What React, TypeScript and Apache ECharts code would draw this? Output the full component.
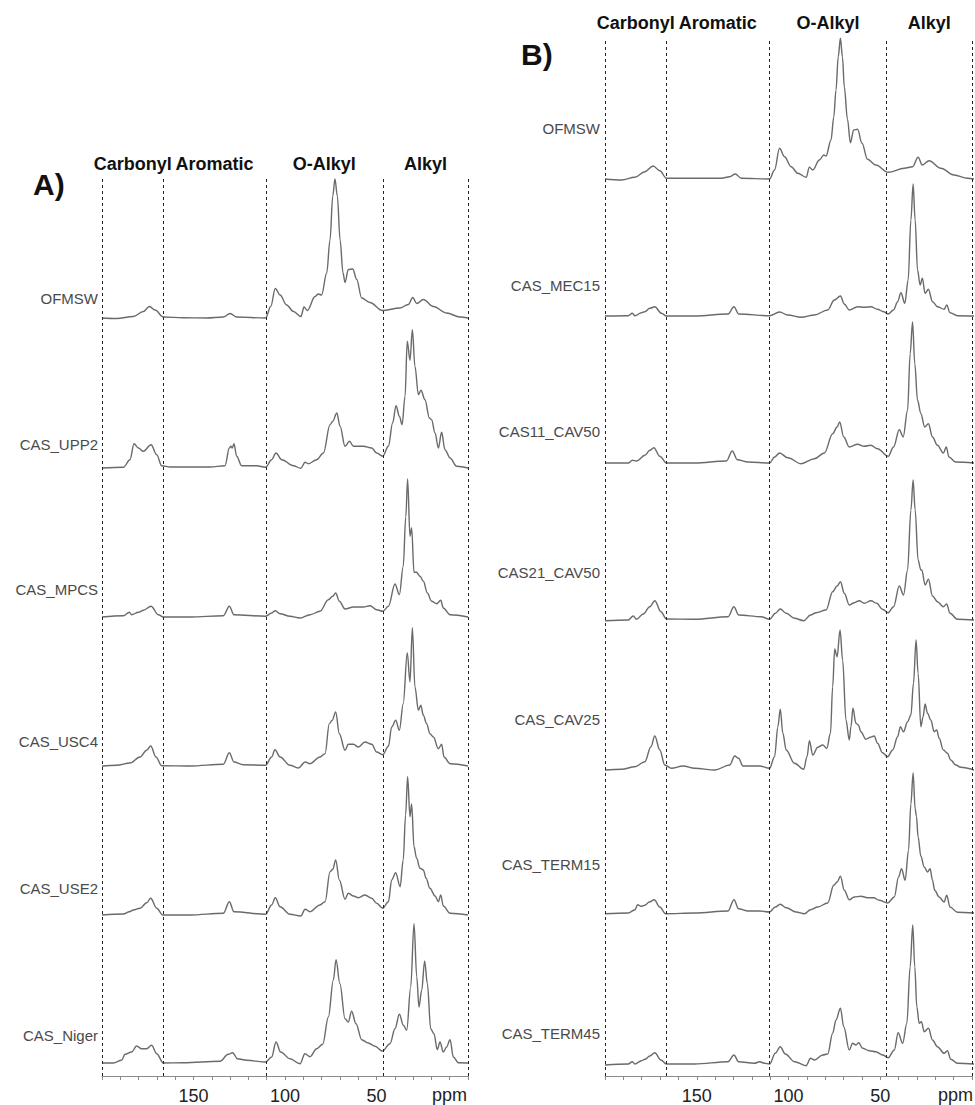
import React, { useEffect, useRef } from "react";
import * as echarts from "echarts";

// ---------- data ----------
const regionBounds = [200, 166.5, 110.5, 46.5, 0];
const regionNames = ["Carbonyl", "Aromatic", "O-Alkyl", "Alkyl"];
const tickLabels = [150, 100, 50];
const axisUnit = "ppm";

const namesA = ["OFMSW", "CAS_UPP2", "CAS_MPCS", "CAS_USC4", "CAS_USE2", "CAS_Niger"];
const namesB = ["OFMSW", "CAS_MEC15", "CAS11_CAV50", "CAS21_CAV50", "CAS_CAV25", "CAS_TERM15", "CAS_TERM45"];

// [ppm, intensity]
const a_OFMSW = [[200,0],[192,-0.5],[182.9,1.5],[177.4,6.5],[174.1,11.5],[171,8],[166.5,1],[155.6,0.3],[142.8,0],[133.7,1],[130,4.5],[126.4,1],[110.6,0],[107.8,11.5],[105.3,29.5],[102.7,23],[99.1,13],[95.4,6.5],[91.3,1.5],[89.6,11],[87.8,7.5],[83.6,21.5],[81.8,24],[80,23],[77.2,45],[75.4,78],[73.9,122],[72.7,139],[71.4,122],[69.9,78],[68.3,45],[67.2,35.5],[65.4,48.5],[63,49],[60.8,38.5],[58.1,20],[53.6,15.5],[46.8,7.5],[37.2,10],[32.6,13.5],[30.2,20.5],[28,14.5],[24.4,18.5],[18.9,11.5],[11.7,5],[4.4,1],[0,0]];
const a_UPP2 = [[200,0],[188.3,0.7],[184.7,8.3],[182.5,24.3],[180.1,20],[177.4,16.7],[173.2,23.3],[170.1,13.3],[167.4,2.3],[162.8,1],[151.9,1],[141,1],[132.8,2.3],[130.4,20],[129.6,21.7],[128.8,20],[127.9,24.3],[126.4,11.7],[123.7,2.3],[115.5,2.3],[110.6,0.7],[107.3,8.3],[104.9,15],[101.8,8.3],[95.4,2.3],[91.4,-0.3],[89,5.7],[87.2,4.3],[82.7,8.3],[79,15],[75.4,43.3],[73.9,46.7],[71.7,55],[69.9,41.7],[67.2,21.7],[64.8,26.7],[62.6,21.7],[57.2,21.7],[52.6,20],[49.9,15],[46.6,11.7],[43.5,21.7],[41.2,45],[39.3,62.3],[37.5,51.7],[36,43.3],[34.4,71.7],[33.2,126.7],[31.7,107.7],[30.4,138.3],[29,101.7],[27.1,73.3],[25.7,77.7],[23.5,68.3],[21.1,50],[19.9,48.3],[18,35],[16.2,20],[14.4,35.7],[12.6,18.3],[9.8,10],[6.2,1.7],[0,0]];
const a_MPCS = [[200,0],[188.3,1.3],[185,4.7],[183.8,2.3],[180.1,4.7],[177.4,6.7],[173.2,10.7],[169.2,2.3],[166.5,0],[151.9,0],[133.7,1.3],[130.4,10.7],[127.9,2.3],[110.6,0.7],[107.3,4],[105.3,6.3],[102.7,3.3],[97.3,0.7],[91.8,-1],[86.3,2.3],[80.9,5.7],[76.3,17.3],[73.9,20.7],[72.3,24],[70.3,15.7],[67.2,8],[62.6,10],[57.2,10],[53.5,11.3],[49.9,7.3],[46.6,5.7],[43.5,10.7],[39.9,33],[37.5,22.3],[35.4,50.7],[34,100],[33,138],[31.7,80.7],[30.8,89],[29.5,44.7],[28.1,44.7],[26.2,40.7],[24.4,35.7],[22.2,24],[19.9,15.7],[17.1,13.3],[14.9,16.7],[13.5,9],[9.8,2.3],[0,0]];
const a_USC4 = [[200,0],[192,0.7],[184.7,3],[179.2,9],[175.6,15.7],[173.4,20],[170.5,9],[167.4,0.3],[151.9,0],[133.7,1.7],[130.4,13.3],[127.9,4],[122.8,1.3],[110.6,0.7],[107.3,9],[105.5,16.3],[102.7,9],[97.3,0.7],[92.7,-2],[89,4],[86.3,2.3],[80.9,9],[78.1,12.3],[75.8,42.3],[74.2,45.7],[72.3,54],[70.3,32.3],[67.2,15.7],[65.4,21.7],[62.6,21.7],[59.9,19],[56.3,24],[52.6,21.7],[49.9,14],[46.6,11.3],[43.5,19.7],[41.7,39],[39.5,45.7],[37.5,35.7],[35.4,62.3],[33.2,113.3],[31.7,84],[30.4,138.3],[29,79],[27.1,55.7],[25.8,60.7],[24.4,50.7],[22.6,42.3],[20.8,32.3],[18.9,29],[16.2,17.3],[14.4,21.7],[13.1,9],[9.8,2.3],[0,0]];
const a_USE2 = [[200,0],[188.3,1],[185,3.3],[182.9,5],[179.2,6.7],[175.6,12.3],[173.4,16.7],[170.1,6.7],[166.8,0],[151.9,0],[133.7,1.7],[130.4,13.3],[127.9,3.3],[110.6,0.7],[107.3,10],[105.3,17.3],[102.7,8.3],[97.3,0.7],[91.4,-1],[89,5.7],[86.3,3.3],[80.9,10],[78.1,13.3],[75.4,43.3],[73.9,45.7],[72.3,55],[70.3,35],[67.2,15.7],[65.4,21.7],[62.6,19],[59.9,17.3],[56.3,20],[52.6,16.7],[49.9,11.7],[46.6,6.7],[43.5,13.3],[41.7,35],[39.5,42.3],[37.1,28.3],[35.4,55],[34.1,100],[33,138.3],[31.7,98.3],[30.8,111],[29.5,68.3],[28.1,56.7],[26.2,46.7],[24.4,45],[22.9,36.7],[20.8,26.7],[18,19],[16.2,13.3],[14.9,20],[13.5,9],[9.8,1.7],[0,0]];
const a_Niger = [[200,0],[193.8,0],[189.3,2.7],[187.4,8.7],[183.8,11],[181.1,17],[178.3,14.3],[175.6,14.3],[172.9,17.7],[170.1,9.3],[166.5,0],[155.6,0.3],[135.5,1.7],[131,8.7],[128.6,10.3],[126,4.3],[120.9,2.7],[110.6,1],[107.3,6],[104.9,21],[102.4,11],[97.3,4.3],[91.8,-0.7],[89.1,9.3],[86.3,6.3],[82.7,14.3],[79.4,18.7],[76.3,46],[73.6,82.7],[72.1,103.3],[70,79.3],[67.2,44.3],[65.4,41],[63.6,51.7],[61.2,39.3],[58.1,23.3],[54.5,20],[50.8,16.7],[46.8,12],[42.6,19.3],[39.9,34.3],[37.5,48.7],[35.3,37.7],[33.5,32.7],[31.3,76],[29.5,139.3],[28,86],[26.8,56],[25.3,72.7],[23.7,102],[22.2,79.3],[20.4,34.3],[18.6,29.3],[16.8,13.3],[15.3,21],[13.5,11],[11.7,16],[9.8,23.3],[8,6],[5.3,0.3],[0,0]];

const b_OFMSW = [[200,0],[191,-1],[183.8,1.7],[178.4,7.3],[173.9,13],[170.3,8.3],[166.7,0.7],[151.4,0.7],[136.9,0.7],[132.4,2.3],[129.4,5],[126.1,0.7],[110.8,0],[108.1,9],[105.4,30.7],[102.7,22.3],[99.1,12.3],[95.5,5.7],[91,1.7],[89.2,11.7],[87.4,9],[83.8,19],[81.4,24],[80.2,23],[77.5,39],[76,62],[74.8,89],[73.6,122],[72.4,140.7],[71.3,122],[70.3,92.3],[68.6,60],[67,36.3],[65.2,49],[63.1,49.7],[60.7,35.7],[57.7,19.7],[53.2,14],[46.5,6.7],[37.8,10.7],[33.3,12.3],[30.3,21.7],[28,14],[24.3,18.3],[18,10.7],[10.8,4],[3.6,0.7],[0,0]];
const b_MEC15 = [[200,0],[187.4,0.3],[185.2,2.7],[183.8,0.3],[180.2,3.3],[178.4,4.3],[175.7,7.7],[173,9.3],[169.4,2.7],[166.7,0],[151.4,0],[133.3,2],[130.1,9.3],[127.6,2],[110.8,0.3],[105.4,4],[100.9,1],[93.7,-1.3],[86.5,1],[79.3,6],[75.7,16],[72.4,20],[70.3,12],[67.6,6],[63.1,9.3],[59.5,8.7],[55.9,9.3],[52.3,6.7],[49,4.3],[46.5,2],[43.6,6],[41.4,14.3],[39.6,23.3],[37.5,12.7],[35.7,36],[34.2,96],[33,132],[31.9,96],[30.6,46],[29.2,31],[28,37.7],[26.5,22.7],[24.7,26.7],[22.5,14.3],[19.8,9.3],[16.2,6.7],[14.8,11],[13,3.3],[9,0.3],[0,0]];
const b_CAS11 = [[200,0],[187.4,0],[185.2,2.7],[182.9,2],[178.4,7.7],[175.7,12.7],[173.5,15.3],[170.3,6.7],[166.7,0],[151.4,0],[134.2,2],[131,12],[128.3,3.3],[122.5,1],[110.8,0],[108.1,6],[105.4,10],[100.9,5.3],[93.7,-0.7],[86.5,4.3],[81.1,10],[76.6,29.3],[74.2,36],[72.8,41],[70.6,26],[67.6,16],[63.1,18.7],[59.5,16.7],[55.9,17.7],[52.3,14.3],[46.5,6.7],[43.6,16],[40.5,33.3],[38.4,26],[36,52.7],[34.6,109.3],[33.3,141],[32.1,99.3],[30.6,62.7],[28.8,49.3],[26.7,36],[24.7,39.3],[22.5,26],[19.8,17.7],[16.6,10],[15,16],[13.6,6],[10,1],[0,0]];
const b_CAS21 = [[200,-0.7],[187.4,0],[184.7,4],[182.9,0.7],[179.3,6],[175.7,13.3],[173,19.3],[169.7,8.3],[166.7,1],[151.4,0.7],[133.3,3.3],[130.1,13.3],[127.6,5],[115.3,3.3],[110.8,0.7],[107.7,6.7],[105,11],[101.8,6.7],[97.3,1.7],[92.3,-0.7],[88.6,5],[85.6,7.3],[80.2,10],[76.6,28.3],[74.2,34],[72.4,38.3],[70.3,26.7],[67.6,15],[64.9,17.3],[62.2,19.3],[59.5,16.7],[55.9,19.3],[52.7,16.7],[49.6,10.7],[46.5,7.3],[43.6,13.3],[40.5,34],[38.2,25],[36,50],[34.2,110],[33,140],[31.9,110],[30.3,60],[28.8,50],[28.3,50],[26.5,35],[24.7,40.7],[22.5,24],[19.8,18.3],[16.6,13.3],[14.8,16],[13,6.7],[9,0.7],[0,0]];
const b_CAV25 = [[200,0],[191,0.7],[183.8,3.3],[178.4,8.3],[175.1,23.3],[173,34],[170.3,20],[167.6,5],[164,1.7],[157.7,4],[151.4,1.7],[140.5,0],[132.4,5],[129.7,14],[127.6,11.7],[125.2,4],[116.2,4],[110.8,1.7],[108.1,13.3],[106.3,43.3],[105,60.7],[103.6,36.7],[101.8,20],[97.3,6.7],[92.3,0.7],[90.5,13.3],[89.2,29.3],[87.4,15],[84.7,22.7],[82,25],[79.8,21.7],[77.8,36.7],[76.6,83.3],[75.5,121],[74.2,113.3],[72.6,140],[71.2,110],[69.4,50],[67.6,30],[66.7,43.3],[65.6,61.7],[64,46.7],[62.7,45],[61.3,38.3],[58.6,30.7],[56.2,32.7],[54.1,34],[52.3,26.7],[49.6,17.3],[46.8,13.3],[44.1,20],[41.4,33.3],[39.9,43.3],[38.2,38.3],[36,48.3],[34.2,55],[32.8,86.7],[31.4,130],[30.3,96.7],[28.8,43.3],[27.6,53.3],[26.5,66],[25.2,56.7],[23.4,50],[21.6,38.3],[20.2,40],[18.9,31.7],[16.6,20],[14.4,16.7],[12.6,10],[9.9,5],[7.2,2.7],[0,0]];
const b_TERM15 = [[200,-0.7],[187.4,0],[183.8,3.3],[182.3,8.3],[180.5,6.7],[178.4,7.7],[176,11],[173.3,13.3],[170.3,6],[167.2,-0.7],[151.4,0],[133.3,2],[130.1,13.3],[127.6,4.3],[122.5,2],[116.2,2],[110.8,1],[107.7,6],[105,8.7],[101.8,5.3],[96.4,1],[91.9,-0.7],[88.6,3.3],[84.7,6],[79.3,10],[76,27.7],[74.2,31],[72.4,36.7],[70.3,22.7],[67.6,13.3],[64.9,16],[61.3,16.7],[57.7,15.3],[54.4,15.3],[51.4,12.7],[46.8,10],[43.2,16],[40.9,36],[39.3,44.3],[37.3,32.7],[35.5,62.7],[34.2,109.3],[33,140],[31.9,104.3],[31.2,96.7],[30.3,76],[28.8,56.7],[27,46],[25.2,41],[23.8,44.3],[22.5,32.7],[21.3,22.7],[18.9,16],[16.2,11],[14.8,17.7],[13,6],[9,0.7],[0,0]];
const b_TERM45 = [[200,-1],[187.4,0],[185.2,2.3],[183.8,0],[180.2,3.3],[178.4,4.7],[175.7,8],[173,11.3],[169.7,4],[166.7,0],[151.4,0],[133.3,2.3],[130.1,9],[127.6,2.3],[119,0.7],[116.2,2.3],[113.5,0.7],[110.8,0],[107.7,10.7],[105,17.3],[102.3,10],[97.3,2.3],[91,-1.7],[88.6,5.7],[86.5,4],[82,9],[79.3,10],[76.6,30.7],[74.8,44],[72.4,55.7],[70.6,37.3],[67.6,14],[65.8,20.7],[64,19],[62.5,21.3],[60.4,15.7],[56.8,13.3],[53.2,12.3],[49.5,9],[46.5,6.3],[43.2,14],[41.1,31.3],[38.7,20.7],[36.4,40.7],[34.6,97.3],[33.2,139],[32.1,97.3],[31,57.3],[29.7,40.7],[28.5,42.3],[27,32.3],[24.7,35.7],[22.5,24],[19.8,17.3],[16.2,10.7],[14.4,13.3],[12.6,4.7],[9,0.7],[0,0]];

const spectraA = [a_OFMSW, a_UPP2, a_MPCS, a_USC4, a_USE2, a_Niger];
const spectraB = [b_OFMSW, b_MEC15, b_CAS11, b_CAS21, b_CAV25, b_TERM15, b_TERM45];

// ---------- layout (pixels) ----------
const FONT = '"Liberation Sans", Arial, Helvetica, sans-serif';
const Y_MIN = -10;
const Y_MAX = 150;
const panelA = {
  tag: "A)", tagX: 33, tagY: 184,
  left: 102, width: 366, top: 179, axisY: 1077, headerGap: 6,
  labelRight: 98,
  baselines: [318, 468, 617, 766, 915, 1063],
  labelY: [298, 444, 589, 741, 888, 1035],
};
const panelB = {
  tag: "B)", tagX: 521, tagY: 54,
  left: 605, width: 369, top: 39, axisY: 1077, headerGap: 7,
  labelRight: 600,
  baselines: [179, 316, 463, 620, 770, 913, 1064],
  labelY: [128, 285, 431, 572, 719, 864, 1033],
};

function buildOption() {
  const grid: any[] = [];
  const xAxis: any[] = [];
  const yAxis: any[] = [];
  const series: any[] = [];
  const graphic: any[] = [];

  const addPanel = (p: any, names: string[], spectra: number[][][]) => {
    const fi = grid.length;
    grid.push({ left: p.left, top: p.top, width: p.width, height: p.axisY - p.top });
    xAxis.push({
      type: "value", gridIndex: fi, min: 0, max: 200, interval: 10, inverse: true,
      axisLine: { show: true, lineStyle: { color: "#8a8a8a", width: 1 } },
      axisTick: { show: true, length: 4, lineStyle: { color: "#8a8a8a" } },
      splitLine: { show: false },
      axisLabel: {
        interval: 0, margin: 11, fontSize: 18, color: "#222", fontFamily: FONT,
        formatter: (v: number) => (tickLabels.includes(v) ? String(v) : ""),
      },
    });
    yAxis.push({ type: "value", gridIndex: fi, min: 0, max: 1, show: false });
    const areas = regionNames.map((n, i) => [
      { xAxis: regionBounds[i], name: n },
      { xAxis: regionBounds[i + 1] },
    ]);
    series.push({
      type: "line", xAxisIndex: fi, yAxisIndex: fi, silent: true, symbol: "none",
      data: [[regionBounds[0], 0], [regionBounds[regionBounds.length - 1], 0]],
      lineStyle: { opacity: 0 },
      markLine: {
        silent: true, symbol: "none", label: { show: false },
        lineStyle: { type: [3, 3], color: "#222", width: 1 },
        data: regionBounds.map((v) => ({ xAxis: v })),
      },
      markArea: {
        silent: true,
        itemStyle: { color: "rgba(0,0,0,0)" },
        label: {
          show: true, position: "top", distance: p.headerGap,
          fontSize: 18, fontWeight: "bold", color: "#111", fontFamily: FONT,
        },
        data: areas,
      },
    });
    graphic.push({
      type: "text", x: p.left + p.width - 1, y: p.axisY + 18,
      style: { text: axisUnit, fontSize: 18, fontFamily: FONT, fill: "#222", align: "right", verticalAlign: "middle" },
    });
    graphic.push({
      type: "text", x: p.tagX, y: p.tagY,
      style: { text: p.tag, fontSize: 30, fontWeight: "bold", fontFamily: FONT, fill: "#111", align: "left", verticalAlign: "middle" },
    });

    spectra.forEach((data, i) => {
      const gi = grid.length;
      grid.push({ left: p.left, width: p.width, top: p.baselines[i] - Y_MAX, height: Y_MAX - Y_MIN });
      xAxis.push({ type: "value", gridIndex: gi, min: 0, max: 200, inverse: true, show: false });
      yAxis.push({ type: "value", gridIndex: gi, min: Y_MIN, max: Y_MAX, show: false });
      series.push({
        type: "line", name: names[i], xAxisIndex: gi, yAxisIndex: gi, data,
        symbol: "none", silent: true, smooth: 0.35, smoothMonotone: "x",
        lineStyle: { color: "#6a6a6a", width: 1.4 },
      });
      graphic.push({
        type: "text", x: p.labelRight, y: p.labelY[i],
        style: { text: names[i], fontSize: 15, fontFamily: FONT, fill: "#4a4a4a", align: "right", verticalAlign: "middle" },
      });
    });
  };

  addPanel(panelA, namesA, spectraA);
  addPanel(panelB, namesB, spectraB);

  return {
    animation: false,
    backgroundColor: "#ffffff",
    grid, xAxis, yAxis, series, graphic,
  };
}

export default function App() {
  const ref = useRef<HTMLDivElement>(null);
  useEffect(() => {
    if (!ref.current) return;
    const chart = echarts.init(ref.current, undefined, { renderer: "svg" });
    chart.setOption(buildOption() as any);
    return () => chart.dispose();
  }, []);
  return (
    <div
      ref={ref}
      style={{ position: "fixed", left: 0, top: 0, width: 975, height: 1105, background: "#fff" }}
    />
  );
}
